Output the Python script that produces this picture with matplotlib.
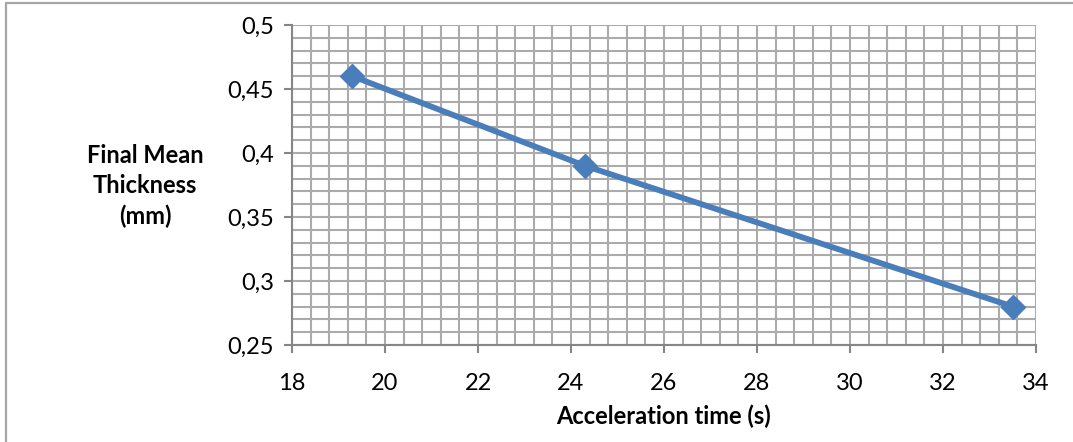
import matplotlib.pyplot as plt
from matplotlib.patches import Rectangle
from matplotlib.ticker import MultipleLocator, FuncFormatter

accel_time = [19.3, 24.3, 33.5]
thickness = [0.46, 0.39, 0.28]

x_ticks = [18, 20, 22, 24, 26, 28, 30, 32, 34]
y_ticks = [0.25, 0.3, 0.35, 0.4, 0.45, 0.5]

plt.rcParams['font.family'] = ['Lato', 'DejaVu Sans']

fig = plt.figure(figsize=(10.73, 4.42), dpi=100)
ax = fig.add_axes([292 / 1073, 1 - 345 / 442, (1036 - 292) / 1073, (345 - 25) / 442])

# outer chart border (only top and left visible)
fig.patches.append(Rectangle((6 / 1073, -0.1), 1.2, 1.1 - 3 / 442, transform=fig.transFigure,
                             fill=False, edgecolor='#a6a6a6', linewidth=1.6))

ax.plot(accel_time, thickness, color='#4a7ebb', linewidth=4.2, marker='D',
        markersize=12.5, markerfacecolor='#4a7ebb', markeredgecolor='#4a7ebb', zorder=3)

ax.set_xlim(18, 34)
ax.set_ylim(0.25, 0.5)
ax.set_xticks(x_ticks)
ax.set_yticks(y_ticks)
ax.xaxis.set_minor_locator(MultipleLocator(0.4))
ax.yaxis.set_minor_locator(MultipleLocator(0.01))

fmt = FuncFormatter(lambda v, p: ('%g' % round(v, 4)).replace('.', ','))
ax.xaxis.set_major_formatter(fmt)
ax.yaxis.set_major_formatter(fmt)

ax.grid(which='both', color='#ababab', linewidth=1.5)
ax.set_axisbelow(True)

for s in ['top', 'right']:
    ax.spines[s].set_visible(False)
for s in ['left', 'bottom']:
    ax.spines[s].set_color('#868686')
    ax.spines[s].set_linewidth(1.5)

ax.tick_params(which='major', direction='out', length=6, width=1.5, color='#868686',
               labelsize=17)
ax.tick_params(axis='x', which='major', pad=14)
ax.tick_params(axis='y', which='major', pad=7)
ax.tick_params(which='minor', length=0)

ax.set_xlabel('Acceleration time (s)', fontsize=17, fontweight='bold', labelpad=8)
fig.text(145 / 1073, 1 - 186 / 442, 'Final Mean\nThickness\n(mm)', ha='center', va='center',
         fontsize=17, fontweight='bold', linespacing=1.36)

fig.savefig('out.png', dpi=100)
